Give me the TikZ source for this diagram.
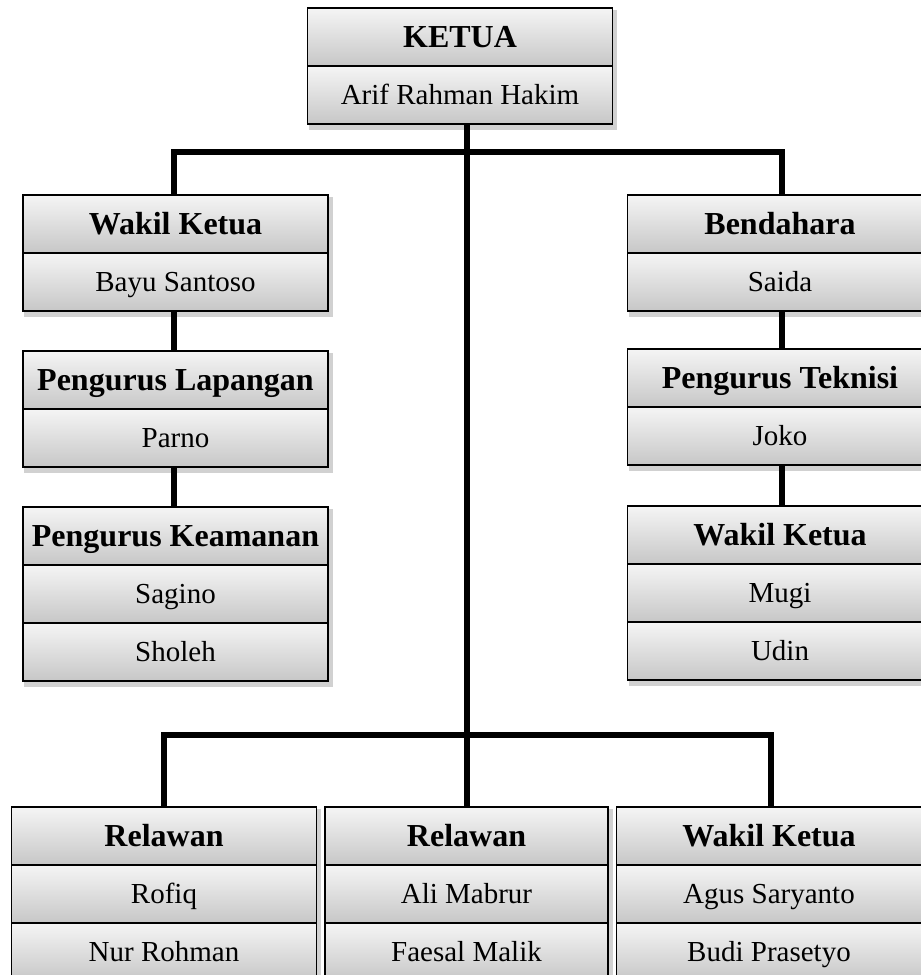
\documentclass[tikz,border=0pt]{standalone}
\usepackage{fontspec}
\setmainfont{Liberation Serif}
\usetikzlibrary{calc,backgrounds}
\tikzset{
  cell/.style={draw=black, line width=1.8pt, rectangle, inner sep=0pt,
    minimum height=58pt, top color=black!4, bottom color=black!22, align=center},
  hd/.style={cell, font=\fontsize{32}{36}\selectfont\bfseries, text height=21pt, text depth=0pt},
  nm/.style={cell, font=\fontsize{29}{34}\selectfont, text height=19pt, text depth=0pt},
  wa/.style={minimum width=305pt},
  wb/.style={minimum width=283pt},
  conn/.style={line width=6pt, line join=miter},
  shad/.style={fill=black, opacity=0.18}
}
\begin{document}
\begin{tikzpicture}[x=1pt,y=-1pt]
\clip (0,0) rectangle (921,975);
% top
\node[hd,wa] (k1) at (460,37) {KETUA};
\node[nm,wa] (k2) at (460,95) {Arif Rahman Hakim};
% left column
\node[hd,wa] (a1) at (175.5,224) {Wakil Ketua};
\node[nm,wa] (a2) at (175.5,282) {Bayu Santoso};
\node[hd,wa] (b1) at (175.5,380) {Pengurus Lapangan};
\node[nm,wa] (b2) at (175.5,438) {Parno};
\node[hd,wa] (c1) at (175.5,536) {Pengurus Keamanan};
\node[nm,wa] (c2) at (175.5,594) {Sagino};
\node[nm,wa] (c3) at (175.5,652) {Sholeh};
% right column
\node[hd,wa] (d1) at (780,224) {Bendahara};
\node[nm,wa] (d2) at (780,282) {Saida};
\node[hd,wa] (e1) at (780,378) {Pengurus Teknisi};
\node[nm,wa] (e2) at (780,436) {Joko};
\node[hd,wa] (f1) at (780,535) {Wakil Ketua};
\node[nm,wa] (f2) at (780,593) {Mugi};
\node[nm,wa] (f3) at (780,651) {Udin};
% bottom row
\node[hd,wa] (g1) at (164,836) {Relawan};
\node[nm,wa] (g2) at (164,894) {Rofiq};
\node[nm,wa] (g3) at (164,952) {Nur Rohman};
\node[hd,wb] (h1) at (466.5,836) {Relawan};
\node[nm,wb] (h2) at (466.5,894) {Ali Mabrur};
\node[nm,wb] (h3) at (466.5,952) {Faesal Malik};
\node[hd,wa] (i1) at (769,836) {Wakil Ketua};
\node[nm,wa] (i2) at (769,894) {Agus Saryanto};
\node[nm,wa] (i3) at (769,952) {Budi Prasetyo};
% junctions
\coordinate (tl) at (174,152);
\coordinate (tc) at (467,152);
\coordinate (tr) at (782,152);
\coordinate (bl) at (164,735);
\coordinate (br) at (771,735);
\begin{scope}[on background layer]
  \fill[white] (0,0) rectangle (921,975);
  \foreach \t/\b in {k1/k2,a1/a2,b1/b2,c1/c3,d1/d2,e1/e2,f1/f3,g1/g3,h1/h3,i1/i3}{
    \fill[shad] ($(\t.north west)+(2,3)$) rectangle ($(\b.south east)+(4,5)$);
  }
  \draw[conn] (a1.north -| tl) -- (tl) -- (tr) -- (d1.north -| tr);
  \draw[conn] (k2.south -| tc) -- (h1.north -| tc);
  \draw[conn] (g1.north -| bl) -- (bl) -- (br) -- (i1.north -| br);
  \draw[conn] (a2.south -| tl) -- (b1.north -| tl);
  \draw[conn] (b2.south -| tl) -- (c1.north -| tl);
  \draw[conn] (d2.south -| tr) -- (e1.north -| tr);
  \draw[conn] (e2.south -| tr) -- (f1.north -| tr);
\end{scope}
\end{tikzpicture}
\end{document}
